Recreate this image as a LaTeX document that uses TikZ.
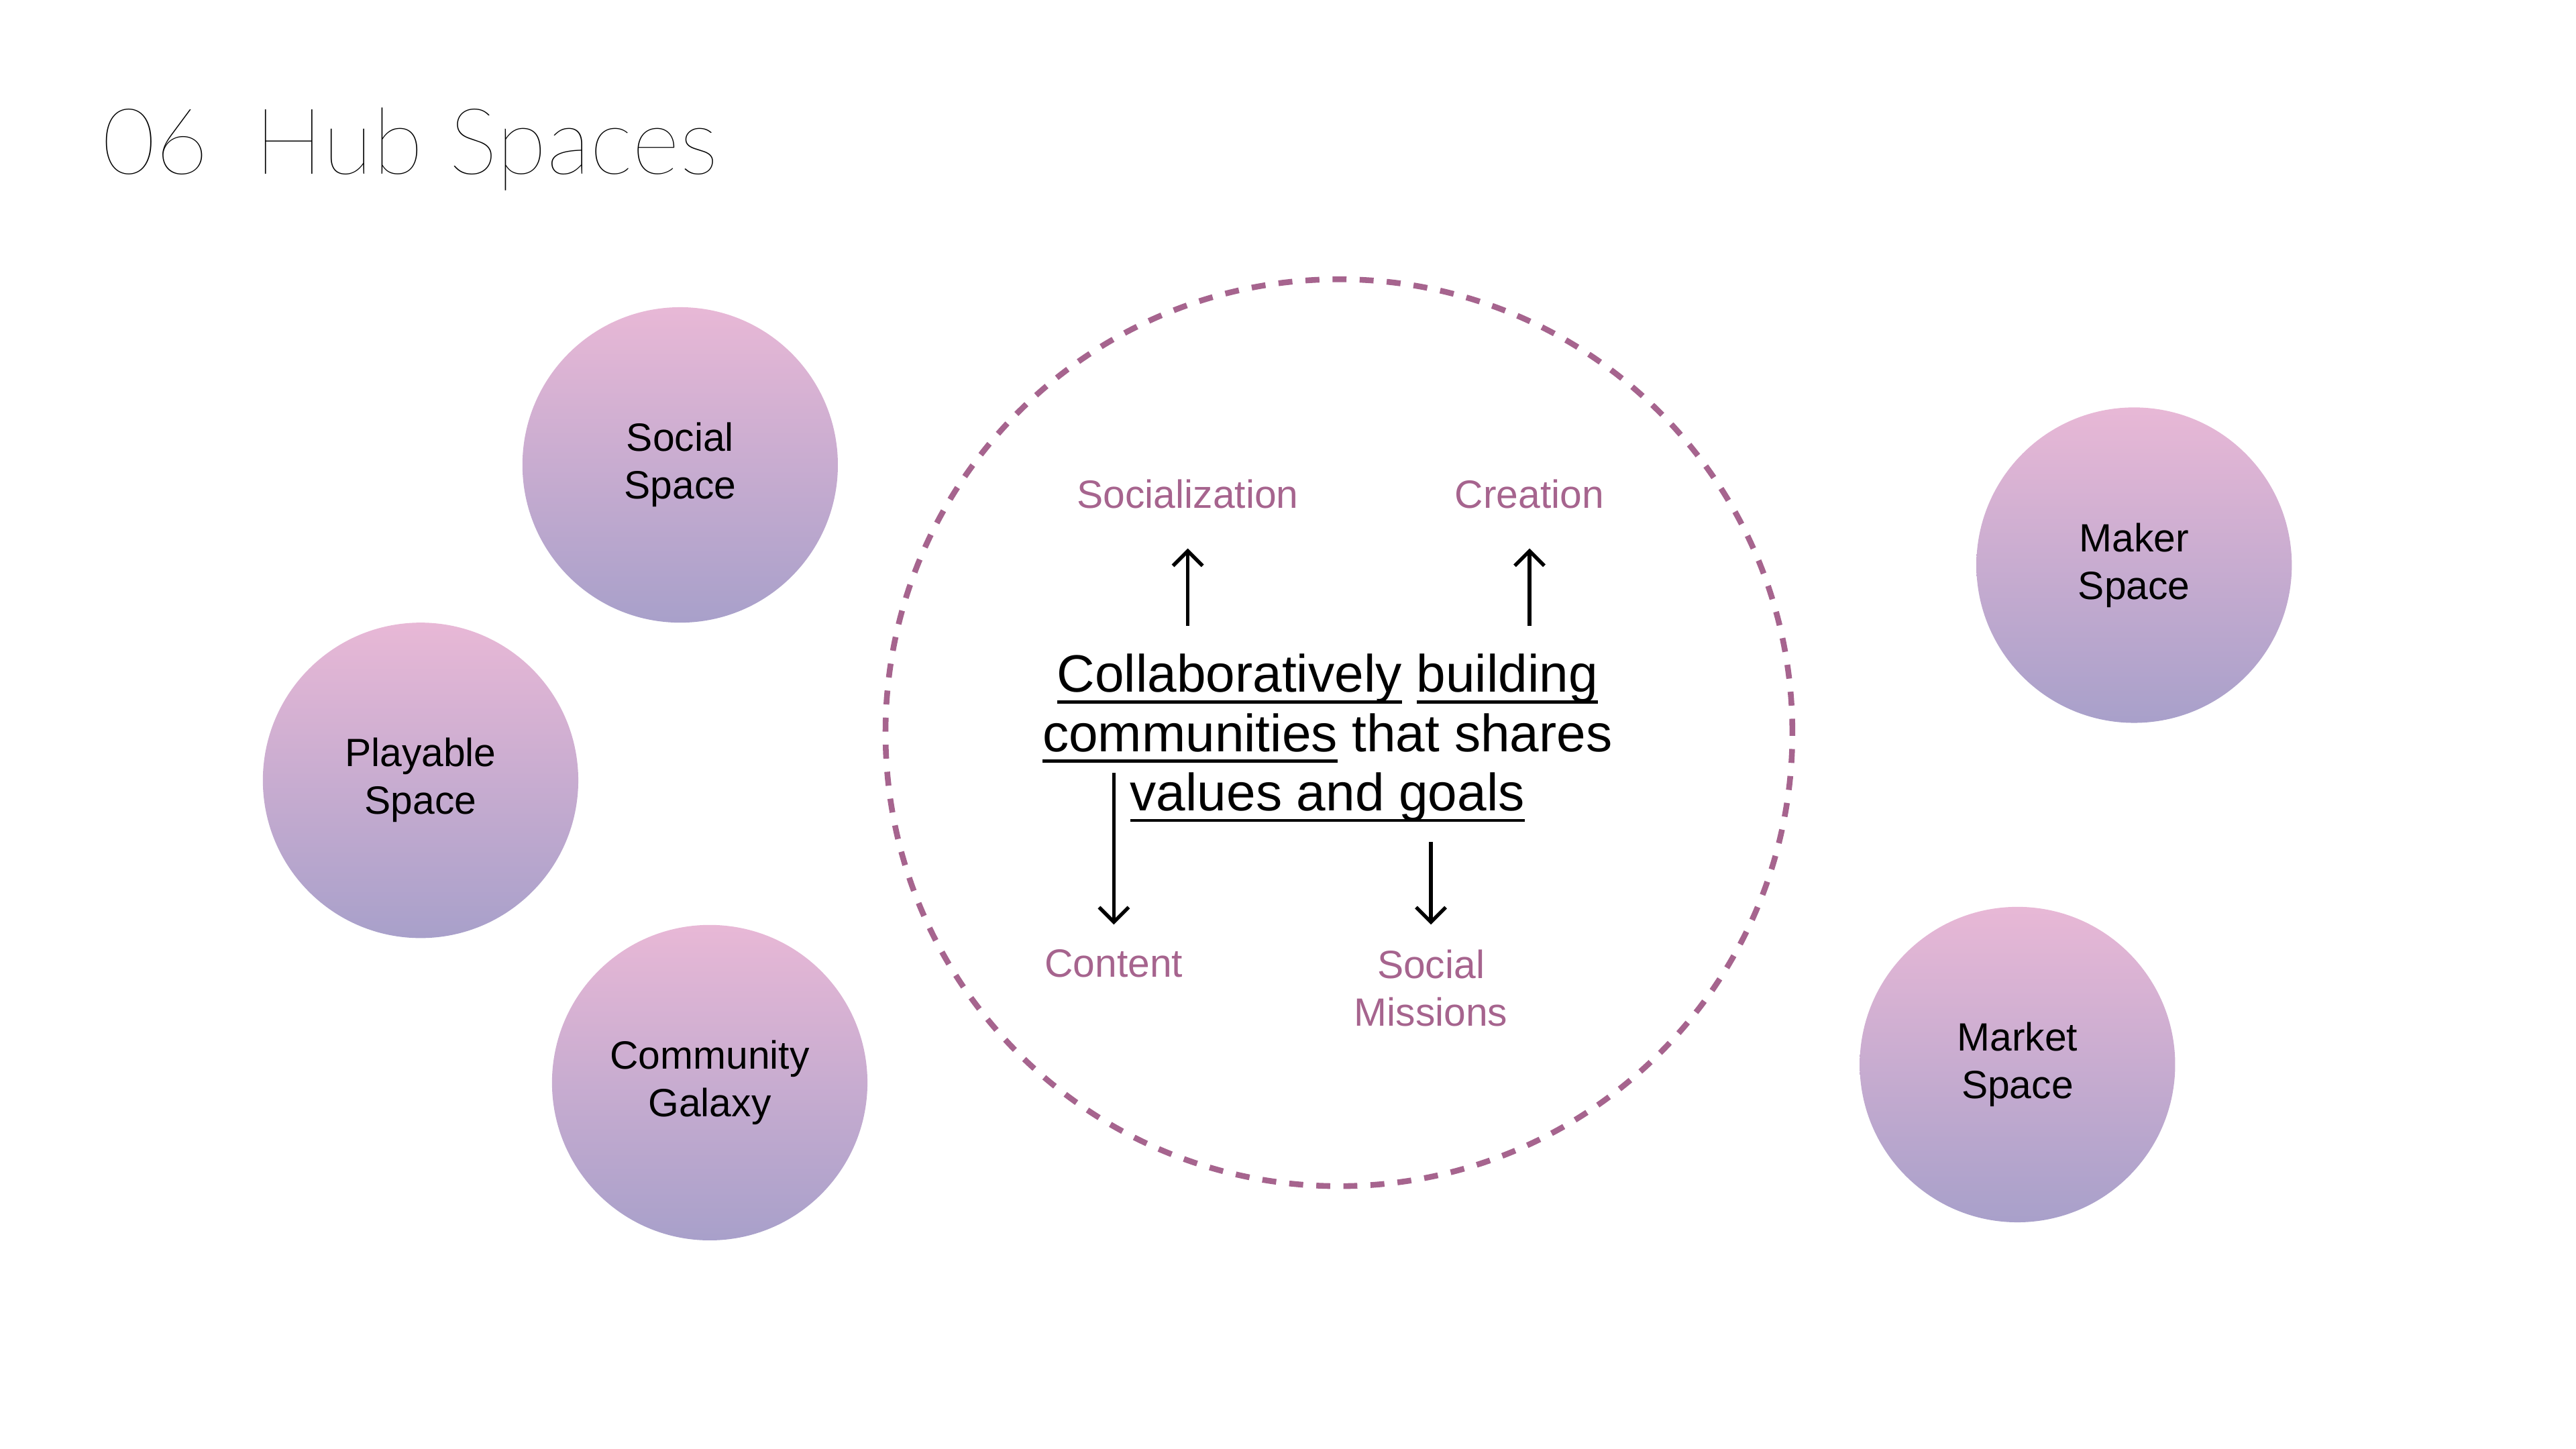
\documentclass[tikz,border=0pt]{standalone}
\usepackage{fontspec}
\setmainfont{Liberation Sans}
\IfFontExistsTF{Lato Thin}{\newfontfamily\titlefont{Lato Thin}}{%
  \IfFontExistsTF{Lato Light}{\newfontfamily\titlefont{Lato Light}}{\newfontfamily\titlefont{Liberation Sans}}}
\newcommand{\uword}[1]{\setbox0\hbox{#1}\rlap{\raisebox{-7pt}{\rule{\wd0}{2pt}}}\box0\relax}
\usetikzlibrary{arrows.meta}
\definecolor{mauve}{RGB}{166,100,142}
\definecolor{pinktop}{RGB}{232,184,214}
\definecolor{lilacbottom}{RGB}{168,160,202}

\begin{document}
\begin{tikzpicture}[x=1pt,y=-1pt,every node/.style={inner sep=0pt},
  hub/.style={circle,minimum size=192pt,top color=pinktop,bottom color=lilacbottom,align=center,font=\fontsize{24}{29}\selectfont},
  tag/.style={text=mauve,align=center,anchor=north,font=\fontsize{24}{29}\selectfont},
  link/.style={-{Straight Barb[length=9pt,width=18pt]},line width=2.2pt}]
\useasboundingbox (0,0) rectangle (1568,882);
\node[anchor=base west,font=\titlefont\fontsize{56}{60}\selectfont] (title) at (62,106) {06\hspace{0.5em}Hub Spaces};
\node[hub] (social) at (414,283) {Social\\Space};
\node[hub] (playable) at (256,475) {Playable\\Space};
\node[hub] (galaxy) at (432,659) {Community\\Galaxy};
\node[hub] (maker) at (1299,344) {Maker\\Space};
\node[hub] (market) at (1228,648) {Market\\Space};
\node[circle,draw=mauve,line width=3.5pt,dash pattern=on 8.5pt off 8pt,minimum size=552pt] (ring) at (815,446) {};
\node[align=center,anchor=north,font=\fontsize{32}{36}\selectfont] (core) at (808,398)
  {\uword{Collaboratively} \uword{building}\\\uword{communities} that shares\\\uword{values and goals}};
\node[tag] (soc) at (723,291.8) {Socialization};
\node[tag] (creation) at (931,291.8) {Creation};
\node[tag] (content) at (678,577.8) {Content};
\node[tag] (mission) at (871,577.8) {Social\\Missions};
\draw[link] ([yshift=17pt]core.north -| soc.south) -- ([yshift=-24pt]soc.south);
\draw[link] ([yshift=17pt]core.north -| creation.south) -- ([yshift=-24pt]creation.south);
\draw[link] ([yshift=30pt]core.south -| content.north) -- ([yshift=15pt]content.north);
\draw[link] ([yshift=-12pt]core.south -| mission.north) -- ([yshift=15pt]mission.north);
\end{tikzpicture}
\end{document}
